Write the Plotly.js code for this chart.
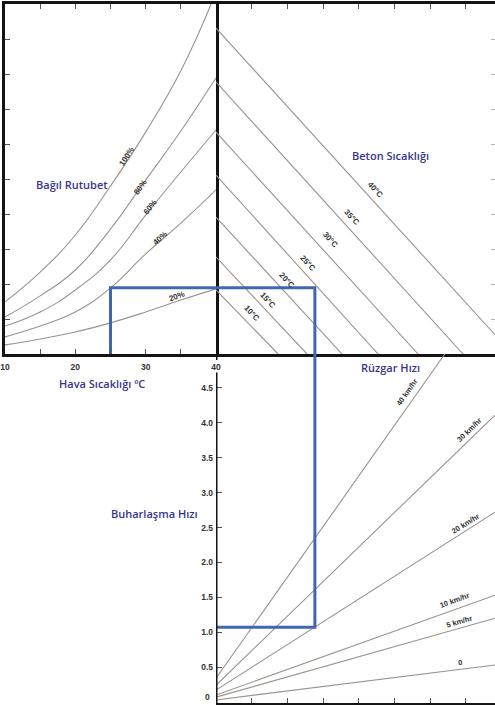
<!DOCTYPE html>
<html>
<head>
<meta charset="utf-8">
<script src="https://cdn.plot.ly/plotly-3.0.1.min.js"></script>
<style>html,body{margin:0;padding:0;background:#fff;}#chart{width:495px;height:705px;}</style>
</head>
<body>
<div id="chart"></div>
<script>
// ---------- DATA ----------
// Left panel: relative humidity curves vs air temperature (°C)
const rhLabels = ['100%', '80%', '60%', '40%', '20%'];
const rh100T = [10, 15, 20, 25, 30, 35, 39.3];
const rh100  = [1.49, 2.34, 3.40, 4.80, 6.34, 8.09, 10.0];
const rh80T  = [10, 15, 20, 25, 30, 35, 40];
const rh80   = [1.06, 1.66, 2.40, 3.57, 4.97, 6.37, 7.89];
const rh60T  = [10, 15, 20, 25, 30, 35, 40];
const rh60   = [0.80, 1.20, 1.83, 2.69, 3.97, 5.20, 6.40];
const rh40T  = [10, 15, 20, 25, 30, 35, 40];
const rh40   = [0.49, 0.80, 1.20, 1.89, 2.86, 3.74, 4.69];
const rh20T  = [10, 15, 20, 25, 30, 35, 40];
const rh20   = [0.26, 0.43, 0.63, 0.89, 1.20, 1.54, 1.86];
const airTempTicks = [10, 15, 20, 25, 30, 35, 40];
const airTempTickText = ['10', '', '20', '', '30', '', '40'];

// Top-right panel: concrete temperature lines (start on left edge, end point)
const concreteTemps  = ['40°C', '35°C', '30°C', '25°C', '20°C', '15°C', '10°C'];
const concreteStartU = [9.31, 7.77, 6.34, 5.11, 3.91, 2.77, 1.83];
const concreteEndV   = [7.815, 6.92, 5.66, 4.54, 3.53, 2.55, 1.74];
const concreteEndU   = [0.55, 0, 0, 0, 0, 0, 0];

// Bottom panel: wind speed lines vs evaporation rate
const windLabels = ['0', '5 km/hr', '10 km/hr', '20 km/hr', '30 km/hr', '40 km/hr'];
const windStartW = [0.03, 0.07, 0.10, 0.17, 0.24, 0.34];
const windEndV   = [7.815, 7.815, 7.815, 7.815, 7.815, 6.41];
const windEndW   = [0.53, 1.20, 1.53, 2.72, 4.11, 4.986];
const evapTicks    = [0, 0.5, 1.0, 1.5, 2.0, 2.5, 3.0, 3.5, 4.0, 4.5];
const evapTickText = ['0', '0.5', '1.0', '1.5', '2.0', '2.5', '3.0', '3.5', '4.0', '4.5'];

// Worked example (blue path)
const exampleAirTemp = 25;
const exampleLevel = 1.89;
const exampleConcreteV = 2.77;
const exampleEvap = 1.07;

// ---------- CHART ----------
const GRAY = '#9c928d';
const BLUE = '#4167b1';
const NAVY = '#36358c';
const VMAX = 7.815, UMAX = 10, WMIN = -0.014, WMAX = 4.986;

const traces = [];
const rhSets = [[rh100T, rh100], [rh80T, rh80], [rh60T, rh60], [rh40T, rh40], [rh20T, rh20]];
rhSets.forEach(s => traces.push({
  x: s[0], y: s[1], xaxis: 'x', yaxis: 'y', mode: 'lines', type: 'scatter',
  line: {color: GRAY, width: 1.1, shape: 'spline', smoothing: 1.3}, hoverinfo: 'skip'
}));
concreteTemps.forEach((t, i) => traces.push({
  x: [0, concreteEndV[i]], y: [concreteStartU[i], concreteEndU[i]], xaxis: 'x2', yaxis: 'y2',
  mode: 'lines', type: 'scatter', line: {color: GRAY, width: 1.1}, hoverinfo: 'skip'
}));
windLabels.forEach((t, i) => traces.push({
  x: [0, windEndV[i]], y: [windStartW[i], windEndW[i]], xaxis: 'x3', yaxis: 'y3',
  mode: 'lines', type: 'scatter', line: {color: GRAY, width: 1.1}, hoverinfo: 'skip'
}));
// blue example path
traces.push({x: [exampleAirTemp, exampleAirTemp, 40], y: [0, exampleLevel, exampleLevel],
  xaxis: 'x', yaxis: 'y', mode: 'lines', line: {color: BLUE, width: 3}, hoverinfo: 'skip'});
traces.push({x: [0, exampleConcreteV, exampleConcreteV], y: [exampleLevel, exampleLevel, 0],
  xaxis: 'x2', yaxis: 'y2', mode: 'lines', line: {color: BLUE, width: 3}, hoverinfo: 'skip'});
traces.push({x: [exampleConcreteV, exampleConcreteV, 0], y: [WMAX, exampleEvap, exampleEvap],
  xaxis: 'x3', yaxis: 'y3', mode: 'lines', line: {color: BLUE, width: 3}, hoverinfo: 'skip'});

const W = 495, H = 705;
const xL = [5 / W, 216 / W], xR = [216 / W, 1];
const yTop = [(H - 354) / H, (H - 4) / H], yBot = [(H - 703) / H, (H - 354) / H];
const tickFont = {family: 'Liberation Sans Narrow, Liberation Sans, Arial', size: 8.5, color: '#333'};
const AX = '#141414';

const ann = [];
function lab(text, xref, yref, x, y, angle, size) {
  ann.push({text: '<b>' + text + '</b>', xref: xref, yref: yref, x: x, y: y, showarrow: false,
    xanchor: 'center', yanchor: 'middle',
    textangle: angle, font: {family: 'Liberation Sans Narrow, Liberation Sans, Arial', size: size || 8, color: '#333'}});
}
// RH labels
lab('100%', 'x', 'y', 27.35, 5.63, -57);
lab('80%', 'x', 'y', 29.2, 4.77, -54);
lab('60%', 'x', 'y', 30.6, 4.2, -51);
lab('40%', 'x', 'y', 32.0, 3.31, -42);
lab('20%', 'x', 'y', 34.45, 1.63, -20);
// concrete labels
const cPos = [[4.45, 4.69], [3.81, 3.91], [3.19, 3.26], [2.58, 2.60], [1.99, 2.11], [1.46, 1.54], [1.01, 1.17]];
concreteTemps.forEach((t, i) => lab(t, 'x2', 'y2', cPos[i][0], cPos[i][1], 48));
// wind labels
const wPos = [[6.83, 0.573, -7], [6.83, 1.15, -16], [6.67, 1.46, -20], [7.0, 2.56, -32], [7.11, 3.90, -44], [5.35, 4.43, -55]];
windLabels.forEach((t, i) => lab(t, 'x3', 'y3', wPos[i][0], wPos[i][1], wPos[i][2], 7.5));
// bottom "0" tick label kept inside the page
ann.push({text: '<b>' + evapTickText[0] + '</b>', xref: 'paper', yref: 'paper', x: 212 / W, y: 1 / H,
  xanchor: 'right', yanchor: 'bottom', showarrow: false, font: tickFont});
// panel titles
function title(text, x, y) {
  ann.push({text: text, xref: 'paper', yref: 'paper', x: x / W, y: (H - y) / H, showarrow: false,
    xanchor: 'center', yanchor: 'middle',
    font: {family: 'Open Sans, Liberation Sans, Arial', size: 11, weight: 600, color: NAVY}});
}
title('Bağıl Rutubet', 72, 184);
title('Beton Sıcaklığı', 390, 155);
title('Hava Sıcaklığı ºC', 102, 383);
title('Rüzgar Hızı', 390, 367);
title('Buharlaşma Hızı', 154, 513);

const layout = {
  width: W, height: H, margin: {l: 0, r: 0, t: 0, b: 0}, showlegend: false,
  paper_bgcolor: '#fff', plot_bgcolor: 'rgba(0,0,0,0)',
  xaxis: {domain: xL, range: [10, 40], anchor: 'y', showline: true, mirror: 'ticks', linecolor: AX, linewidth: 3,
    ticks: 'inside', ticklen: 5, tickwidth: 1, tickcolor: '#555', tickvals: airTempTicks, ticktext: airTempTickText.map(t => t ? '<b>' + t + '</b>' : ''),
    tickfont: tickFont, ticklabelstandoff: 3, ticklabeloverflow: 'allow', showgrid: false, zeroline: false, fixedrange: true},
  yaxis: {domain: yTop, range: [0, UMAX], anchor: 'x', showline: true, mirror: true, linecolor: AX, linewidth: 3,
    ticks: 'inside', ticklen: 5, tickwidth: 1, tickcolor: '#555', tickvals: [1, 2, 3, 4, 5, 6, 7, 8, 9],
    showticklabels: false, showgrid: false, zeroline: false, fixedrange: true},
  xaxis2: {domain: xR, range: [0, VMAX], anchor: 'y2', side: 'top', showline: true, mirror: true, linecolor: AX, linewidth: 3,
    ticks: 'inside', ticklen: 5, tickwidth: 1, tickcolor: '#555', tickvals: [1, 2, 3, 4, 5, 6, 7],
    showticklabels: false, showgrid: false, zeroline: false, fixedrange: true},
  yaxis2: {domain: yTop, range: [0, UMAX], anchor: 'x2', side: 'right', showline: false,
    ticks: 'inside', ticklen: 4, tickwidth: 1, tickcolor: '#b5b5b5', tickvals: [1, 2, 3, 4, 5, 6, 7, 8, 9],
    showticklabels: false, showgrid: false, zeroline: false, fixedrange: true},
  xaxis3: {domain: xR, range: [0, VMAX], anchor: 'y3', showline: true, linecolor: AX, linewidth: 3,
    ticks: 'inside', ticklen: 5, tickwidth: 1, tickcolor: '#555', tickvals: [1, 2, 3, 4, 5, 6, 7],
    showticklabels: false, showgrid: false, zeroline: false, fixedrange: true},
  yaxis3: {domain: yBot, range: [WMIN, WMAX], anchor: 'x3', showline: false,
    ticks: 'inside', ticklen: 6, tickwidth: 1, tickcolor: '#555', tickvals: evapTicks,
    ticktext: evapTickText.map((t, i) => i === 0 ? '' : '<b>' + t + '</b>'),
    tickfont: tickFont, ticklabelstandoff: 2, showgrid: false, zeroline: false, fixedrange: true},
  yaxis4: {domain: yBot, range: [WMIN, WMAX], anchor: 'x3', overlaying: 'y3', side: 'right', showline: false,
    ticks: 'inside', ticklen: 4, tickwidth: 1, tickcolor: '#b5b5b5', tickvals: evapTicks.slice(1),
    showticklabels: false, showgrid: false, zeroline: false, fixedrange: true},
  shapes: [
    {type: 'line', xref: 'x3', yref: 'y3', x0: 0, x1: 0, y0: WMIN, y1: 4.72, line: {color: AX, width: 3}},
    {type: 'line', xref: 'x3', yref: 'y3', x0: 0, x1: 0, y0: WMAX, y1: 4.9, line: {color: AX, width: 3}}
  ],
  annotations: ann
};
Plotly.newPlot('chart', traces, layout, {staticPlot: true, displayModeBar: false});
</script>
</body>
</html>
